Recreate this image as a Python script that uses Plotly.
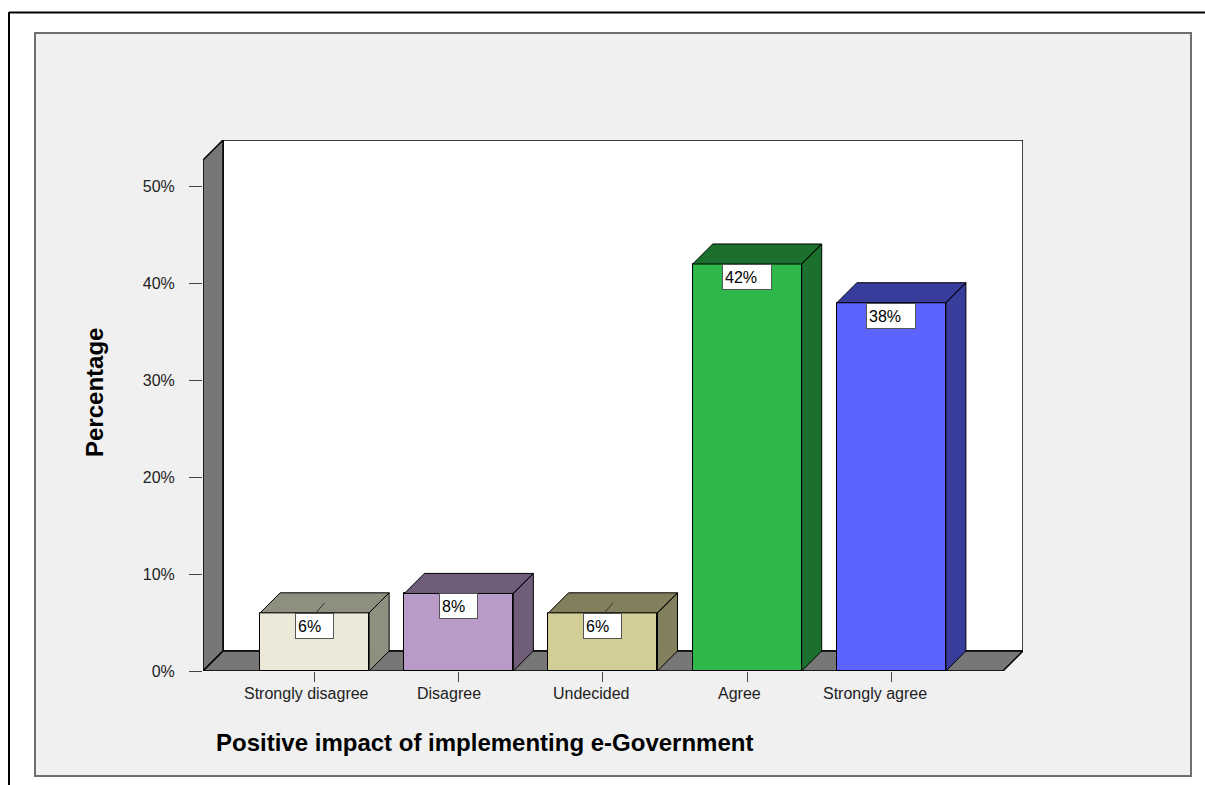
import plotly.graph_objects as go

# Survey responses: share of respondents per answer
categories = ["Strongly disagree", "Disagree", "Undecided", "Agree", "Strongly agree"]
percent = [6, 8, 6, 42, 38]
y_ticks = [0, 10, 20, 30, 40, 50]
y_tick_labels = ["0%", "10%", "20%", "30%", "40%", "50%"]
x_title = "Positive impact of implementing e-Government"
y_title = "Percentage"
# labels that sit below their anchor and get a short leader line
leader_labels = ["Strongly disagree", "Undecided"]

# styling
front_colors = ["#ECE9D8", "#B99BC9", "#D3CE98", "#2EB84A", "#5D63FF"]
side_colors = ["#8F8F80", "#705D7A", "#827F5C", "#1C702E", "#383C9B"]
wall_color = "#777777"
FONT = "Liberation Sans, Arial, sans-serif"
# horizontal nudge (px) of each category label relative to its tick
label_nudge = [-8, -10, -11, -7.5, -16.5]

bar_w = 0.756        # bar width in category units
depth_x = 0.139      # 3D depth offset along x (category units)
depth_y = 2.07       # 3D depth offset along y (percent units)
pad = 0.774          # space between axis ends and first/last category centre
y_top = 54.8

n = len(categories)
x_idx = list(range(n))
x_lo = -pad
x_front_hi = (n - 1) + pad
x_hi = x_front_hi + depth_x

# plot area in pixels
W, H = 1205, 785
ML, MR, MT, MB = 203, 182, 140, 114
PW, PH = W - ML - MR, H - MT - MB


def px_x(px):
    return (px - ML) / PW


def px_y(py):
    return (H - MB - py) / PH


fig = go.Figure()

# front faces
fig.add_trace(go.Bar(
    x=x_idx, y=percent, width=bar_w,
    marker=dict(color=front_colors, line=dict(color="#000000", width=1)),
    hoverinfo="skip", showlegend=False,
))

# top and side faces of each bar
for i, v in enumerate(percent):
    l, r = i - bar_w / 2, i + bar_w / 2
    xs = [l, r, r + depth_x, l + depth_x, l, None,
          r, r + depth_x, r + depth_x, r, r]
    ys = [v, v, v + depth_y, v + depth_y, v, None,
          0, depth_y, v + depth_y, v, 0]
    fig.add_trace(go.Scatter(
        x=xs, y=ys, mode="lines", fill="toself",
        fillcolor=side_colors[i], line=dict(color="#000000", width=1),
        hoverinfo="skip", showlegend=False,
    ))

# leader lines for displaced value labels
for i, (c, v) in enumerate(zip(categories, percent)):
    if c in leader_labels:
        fig.add_trace(go.Scatter(
            x=[i + 0.01, i + depth_x / 2], y=[v, v + depth_y / 2],
            mode="lines", line=dict(color="#333333", width=1),
            hoverinfo="skip", showlegend=False,
        ))

shapes = [
    # outer frame (top and left edges)
    dict(type="line", xref="paper", yref="paper",
         x0=px_x(9), x1=px_x(1210), y0=px_y(12.5), y1=px_y(12.5),
         line=dict(color="#000000", width=2), layer="below"),
    dict(type="line", xref="paper", yref="paper",
         x0=px_x(9), x1=px_x(9), y0=px_y(12), y1=px_y(790),
         line=dict(color="#000000", width=2), layer="below"),
    # grey chart panel
    dict(type="rect", xref="paper", yref="paper",
         x0=px_x(35), x1=px_x(1191), y0=px_y(33), y1=px_y(776),
         fillcolor="#F0F0F0", line=dict(color="#6E6E6E", width=2), layer="below"),
    # back wall
    dict(type="rect", xref="x", yref="y",
         x0=x_lo + depth_x, x1=x_hi, y0=depth_y, y1=y_top,
         fillcolor="#FFFFFF", line=dict(color="#000000", width=1.5), layer="below"),
    # left wall
    dict(type="path", xref="x", yref="y",
         path=f"M{x_lo},0 L{x_lo},{y_top - depth_y} L{x_lo + depth_x},{y_top} "
              f"L{x_lo + depth_x},{depth_y} Z",
         fillcolor=wall_color, line=dict(color="#000000", width=1.5), layer="below"),
    # floor
    dict(type="path", xref="x", yref="y",
         path=f"M{x_lo},0 L{x_front_hi},0 L{x_hi},{depth_y} L{x_lo + depth_x},{depth_y} Z",
         fillcolor=wall_color, line=dict(color="#000000", width=1.5), layer="below"),
]

annotations = []
# value labels
for i, v in enumerate(percent):
    txt = f"{v}%"
    annotations.append(dict(
        x=i, y=v, xref="x", yref="y", text=txt, showarrow=False,
        xanchor="center", yanchor="top", align="left",
        width=11 * len(txt) + 11, height=20, borderpad=2,
        bgcolor="#FFFFFF", bordercolor="#555555", borderwidth=1,
        font=dict(family=FONT, size=16, color="#000000"),
    ))
# category labels under the floor
for i, c in enumerate(categories):
    annotations.append(dict(
        x=i, y=0, xref="x", yref="y", text=c, showarrow=False,
        xanchor="center", yanchor="top", xshift=label_nudge[i], yshift=-12,
        font=dict(family=FONT, size=16, color="#222222"),
    ))
# axis titles
annotations.append(dict(
    x=px_x(94), y=px_y(393), xref="paper", yref="paper", text=f"<b>{y_title}</b>",
    textangle=-90, showarrow=False, xanchor="center", yanchor="middle",
    font=dict(family=FONT, size=24, color="#000000"),
))
annotations.append(dict(
    x=px_x(214), y=px_y(742), xref="paper", yref="paper", text=f"<b>{x_title}</b>",
    showarrow=False, xanchor="left", yanchor="middle",
    font=dict(family=FONT, size=24, color="#000000"),
))

fig.update_layout(
    width=W, height=H, autosize=False,
    margin=dict(l=ML, r=MR, t=MT, b=MB, pad=0),
    paper_bgcolor="#FFFFFF", plot_bgcolor="rgba(0,0,0,0)",
    shapes=shapes, annotations=annotations, showlegend=False,
    bargap=0,
    xaxis=dict(
        range=[x_lo, x_hi], tickvals=x_idx, showticklabels=False,
        ticks="outside", ticklen=10, tickcolor="#444444", tickwidth=1,
        showgrid=False, zeroline=False, showline=False, fixedrange=True,
    ),
    yaxis=dict(
        range=[0, y_top], tickvals=y_ticks, ticktext=y_tick_labels,
        ticks="outside", ticklen=13, tickcolor="#444444", tickwidth=1,
        ticklabelstandoff=11,
        showgrid=False, zeroline=False, showline=False, fixedrange=True,
        tickfont=dict(family=FONT, size=16, color="#222222"),
    ),
)

fig.write_html("out.html")
